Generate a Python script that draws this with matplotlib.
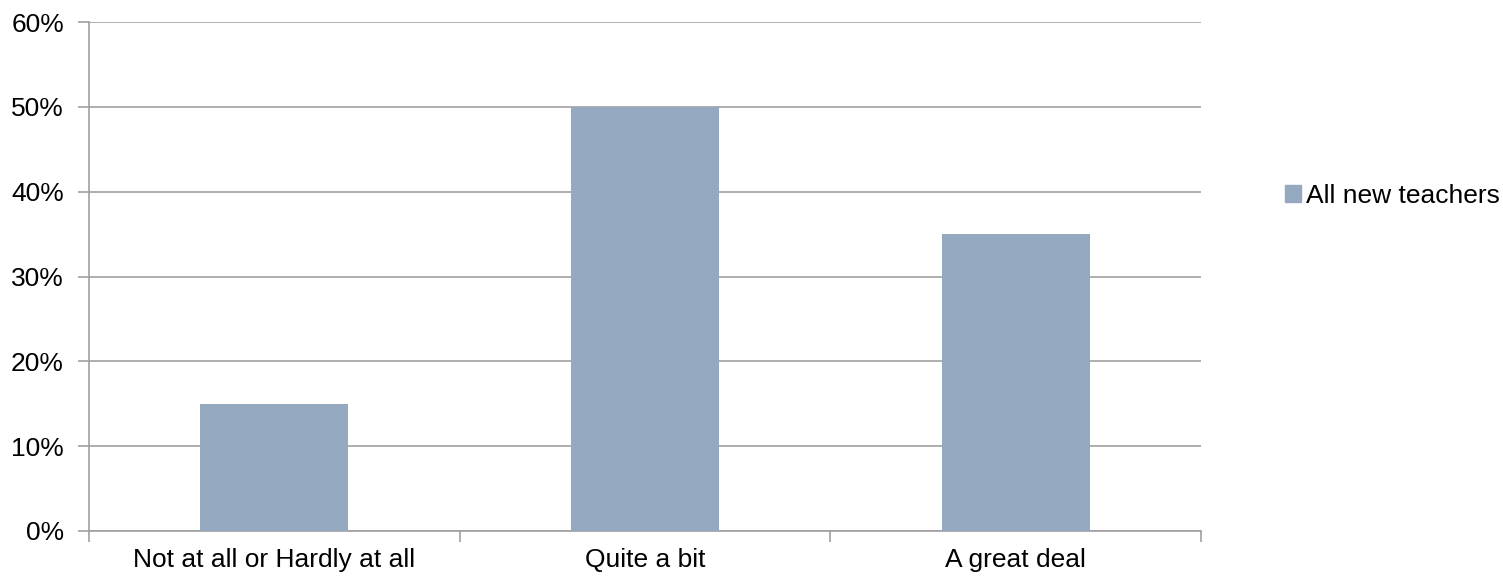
import matplotlib.pyplot as plt
from matplotlib.ticker import PercentFormatter
from matplotlib.patches import Patch

plt.rcParams['font.family'] = ['Liberation Sans', 'DejaVu Sans']

categorias = ["Not at all or Hardly at all", "Quite a bit", "A great deal"]
valores = [0.15, 0.50, 0.35]
serie = "All new teachers"
color_barra = "#94A8C0"
gris = "#A0A0A0"

fig = plt.figure(figsize=(15.03, 5.78), dpi=100)
ax = fig.add_axes([89/1503, 47/578, (1201-89)/1503, (531-22)/578])

posiciones = list(range(len(categorias)))
ax.bar(posiciones, valores, width=0.4, color=color_barra, zorder=3)

ax.set_xlim(-0.5, len(categorias) - 0.5)
ax.set_ylim(0, 0.6)
ax.set_yticks([i / 10 for i in range(7)])
ax.yaxis.set_major_formatter(PercentFormatter(1.0, decimals=0))
ax.grid(axis="y", color=gris, linewidth=1.2, zorder=0)

ax.set_xticks(posiciones)
ax.set_xticklabels(categorias)
ax.set_xticks([p + 0.5 for p in [-1] + posiciones], minor=True)
ax.tick_params(axis="x", which="major", length=0, pad=12, labelsize=19)
ax.tick_params(axis="x", which="minor", length=8, color=gris, width=1.2)
ax.tick_params(axis="y", length=8, color=gris, width=1.2, labelsize=19, pad=10)

for lado in ["top", "right"]:
    ax.spines[lado].set_visible(False)
for lado in ["left", "bottom"]:
    ax.spines[lado].set_color(gris)
    ax.spines[lado].set_linewidth(1.2)

fig.legend(handles=[Patch(color=color_barra, label=serie)],
           loc="center left", bbox_to_anchor=(1285/1503, 1 - 196/578),
           frameon=False, fontsize=19, handlelength=0.6, handleheight=0.6,
           handletextpad=0.2, borderpad=0, borderaxespad=0)

fig.savefig("out.png", dpi=100)
